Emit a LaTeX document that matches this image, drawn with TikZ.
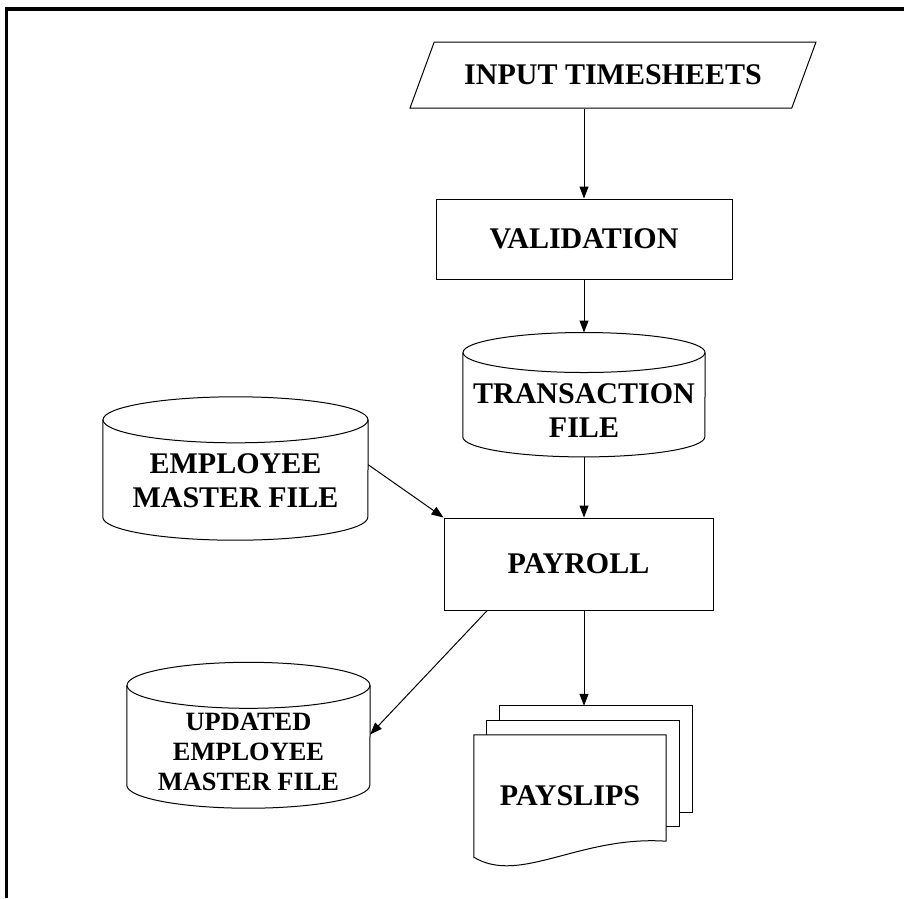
\documentclass[tikz,border=0pt]{standalone}
\usepackage{fontspec}
\setmainfont{Liberation Serif}
\usetikzlibrary{arrows.meta}
\usetikzlibrary{shapes.geometric}
\usetikzlibrary{positioning}
\usetikzlibrary{calc}

\begin{document}
\begin{tikzpicture}[x=1pt,y=-1pt]
  \tikzset{procbox/.style={draw,line width=1pt,minimum width=#1,inner sep=0pt},
           iobox/.style={draw,line width=1pt,trapezium,trapezium left angle=45,
             trapezium right angle=135,trapezium stretches=true,
             minimum width=#1,minimum height=66pt,inner sep=0pt},
           filebox/.style={minimum width=#1,inner sep=0pt,align=center},
           docbox/.style={minimum width=#1,minimum height=122pt,inner sep=0pt},
           outline/.style={line width=1pt},
           flow/.style={-{Triangle[length=12pt,width=9pt]},line width=1pt},
           every node/.style={font=\fontsize{30}{34}\selectfont\bfseries}}
  \useasboundingbox (0,0) rectangle (904,898);
  \draw[line width=3.5pt] (6.5,898) -- (6.5,9) -- (904,9);

  \node[iobox=408pt] (input) at (613,75) {INPUT TIMESHEETS};
  \node[procbox=296pt,minimum height=80pt] (valid) at (584,239) {VALIDATION};
  \node[filebox=242pt,minimum height=92pt,below=85pt] (trans) at (valid.south) {TRANSACTION\\FILE};
  \node[procbox=269pt,minimum height=92pt] (payroll) at (578.5,564) {PAYROLL};
  \node[filebox=265pt,minimum height=118pt] (emp) at (235.5,481) {EMPLOYEE\\MASTER FILE};
  \node[filebox=243pt,minimum height=113pt,font=\fontsize{26.4}{30}\selectfont\bfseries]
     (upd) at (248.5,751.5) {UPDATED\\EMPLOYEE\\MASTER FILE};
  \node[docbox=192pt] (slips) at (570,796) {PAYSLIPS};

  % data stores: name / half width / rim / rim centre above node
  \foreach \n/\w/\r/\t in {trans/121/20/12,emp/132.5/23/2,upd/121.5/23/9.5}{
    \draw[outline] ($(\n.north)+(0,-\t)$) ellipse[x radius=\w pt,y radius=\r pt];
    \draw[outline] ($(\n.north west)+(0,-\t)$) -- ($(\n.south west)+(0,-\r)$)
      arc[start angle=180,end angle=360,x radius=\w pt,y radius=\r pt]
      -- ($(\n.north east)+(0,-\t)$);
  }

  % payslip sheets
  \draw[outline] (slips.south west) -- (slips.north west) -- (slips.north east)
    -- ($(slips.south east)+(0,-16)$)
    .. controls ($(slips.south)+(10,-22)$) and ($(slips.south)+(-50,28)$) .. cycle;
  \foreach \k in {1,2}{
    \draw[outline] ($(slips.north west)+(13*\k,14.5-14.5*\k)$) -- ++(0,-14.5)
      -- ($(slips.north east)+(13*\k,-14.5*\k)$)
      -- ($(slips.south east)+(13*\k,-16-14.5*\k)$) -- ++(-13,0);
  }

  \draw[flow] (input.south -| valid.north) -- (valid.north);
  \draw[flow] (valid.south) -- ($(trans.north)+(0,-32)$);
  \draw[flow] (trans.south) -- (trans.south |- payroll.north);
  \draw[flow] (emp.7) -- (payroll.north west);
  \draw[flow] (payroll.207) -- (upd.8);
  \draw[flow] (trans.south |- payroll.south) -- ($(slips.north)+(14,-29)$);
\end{tikzpicture}
\end{document}
